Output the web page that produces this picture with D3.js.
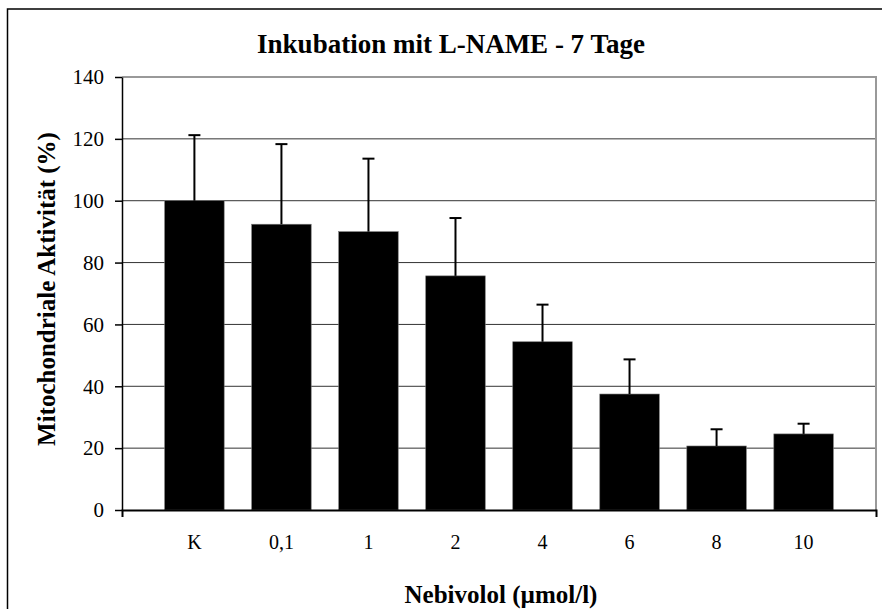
<!DOCTYPE html>
<html>
<head>
<meta charset="utf-8">
<script src="https://cdn.jsdelivr.net/npm/d3@7"></script>
<style>
  body { margin: 0; background: #fff; }
  svg text { font-family: "Liberation Serif", "Times New Roman", serif; fill: #000; }
</style>
</head>
<body>
<div id="chart"></div>
<script>
/* ---------------------- Data ---------------------- */
var categories = ["K", "0,1", "1", "2", "4", "6", "8", "10"];
var means = [100, 92.4, 90.0, 75.7, 54.4, 37.5, 20.7, 24.6];
var errors = [21.2, 25.9, 23.6, 18.7, 12.0, 11.2, 5.4, 3.3];
var yTicks = [0, 20, 40, 60, 80, 100, 120, 140];

var title = "Inkubation mit L-NAME - 7 Tage";
var xTitle = "Nebivolol (\u00b5mol/l)";
var yTitle = "Mitochondriale Aktivit\u00e4t (%)";

/* ---------------------- Layout ---------------------- */
var W = 882, H = 609;
var margin = {top: 77, right: 6, bottom: 99, left: 122};
var width = W - margin.left - margin.right;
var height = H - margin.top - margin.bottom;

var svg = d3.select("#chart")
    .append("svg")
    .attr("width", W)
    .attr("height", H);

// outer frame (cut off at the right and bottom)
svg.append("rect")
    .attr("x", 7.5)
    .attr("y", 9)
    .attr("width", W + 20)
    .attr("height", H + 20)
    .attr("fill", "none")
    .attr("stroke", "#000")
    .attr("stroke-width", 1.5);

var g = svg.append("g")
    .attr("transform", `translate(${margin.left}, ${margin.top})`);

// Scales
var xScale = d3.scaleBand()
    .domain(categories)
    .range([0, width])
    .paddingInner(0.316)
    .paddingOuter(0.49);

var yScale = d3.scaleLinear()
    .domain([0, 140])
    .range([height, 0]);

// Gridlines
g.append("g")
    .selectAll("line")
    .data(yTicks.filter(d => d > 0 && d < 140))
    .enter()
    .append("line")
    .attr("x1", 0)
    .attr("x2", width)
    .attr("y1", d => yScale(d))
    .attr("y2", d => yScale(d))
    .attr("stroke", "#333")
    .attr("stroke-width", 1);

// Plot border top / right (grey)
g.append("path")
    .attr("d", `M0,${yScale(140)} H${width} V${height}`)
    .attr("fill", "none")
    .attr("stroke", "#999")
    .attr("stroke-width", 2);

// Bars
g.append("g")
    .selectAll("rect")
    .data(means)
    .enter()
    .append("rect")
    .attr("x", (d, i) => xScale(categories[i]))
    .attr("y", d => yScale(d))
    .attr("width", xScale.bandwidth())
    .attr("height", d => height - yScale(d))
    .attr("fill", "#000")
    .attr("stroke", "#777")
    .attr("stroke-width", 0.6);

// Error bars (upper only)
var errG = g.append("g")
    .attr("stroke", "#000")
    .attr("stroke-width", 2);

means.forEach((m, i) => {
    var cx = xScale(categories[i]) + xScale.bandwidth() / 2;
    errG.append("line")
        .attr("x1", cx).attr("x2", cx)
        .attr("y1", yScale(m)).attr("y2", yScale(m + errors[i]));
    errG.append("line")
        .attr("x1", cx - 6).attr("x2", cx + 6)
        .attr("y1", yScale(m + errors[i])).attr("y2", yScale(m + errors[i]));
});

// Y axis
var yAxis = d3.axisLeft(yScale)
    .tickValues(yTicks)
    .tickSizeInner(7)
    .tickSizeOuter(0)
    .tickPadding(11);

var gy = g.append("g").call(yAxis);
gy.attr("font-family", null);
gy.selectAll("text").attr("font-size", 21);
gy.selectAll("line").attr("stroke", "#000").attr("stroke-width", 1.5);
gy.select(".domain").attr("stroke", "#000").attr("stroke-width", 1.5);

// X axis
var xAxis = d3.axisBottom(xScale)
    .tickSizeInner(0)
    .tickSizeOuter(7)
    .tickPadding(25);

var gx = g.append("g")
    .attr("transform", `translate(0, ${height})`)
    .call(xAxis);
gx.attr("font-family", null);
gx.selectAll("text").attr("font-size", 20);
gx.select(".domain").attr("stroke", "#000").attr("stroke-width", 2);

// Titles
svg.append("text")
    .attr("x", 451)
    .attr("y", 53)
    .attr("text-anchor", "middle")
    .attr("font-size", 27)
    .attr("font-weight", "bold")
    .text(title);

svg.append("text")
    .attr("x", 501)
    .attr("y", 603)
    .attr("text-anchor", "middle")
    .attr("font-size", 25)
    .attr("font-weight", "bold")
    .text(xTitle);

svg.append("text")
    .attr("transform", "translate(55, 289) rotate(-90)")
    .attr("text-anchor", "middle")
    .attr("font-size", 25)
    .attr("font-weight", "bold")
    .text(yTitle);
</script>
</body>
</html>
